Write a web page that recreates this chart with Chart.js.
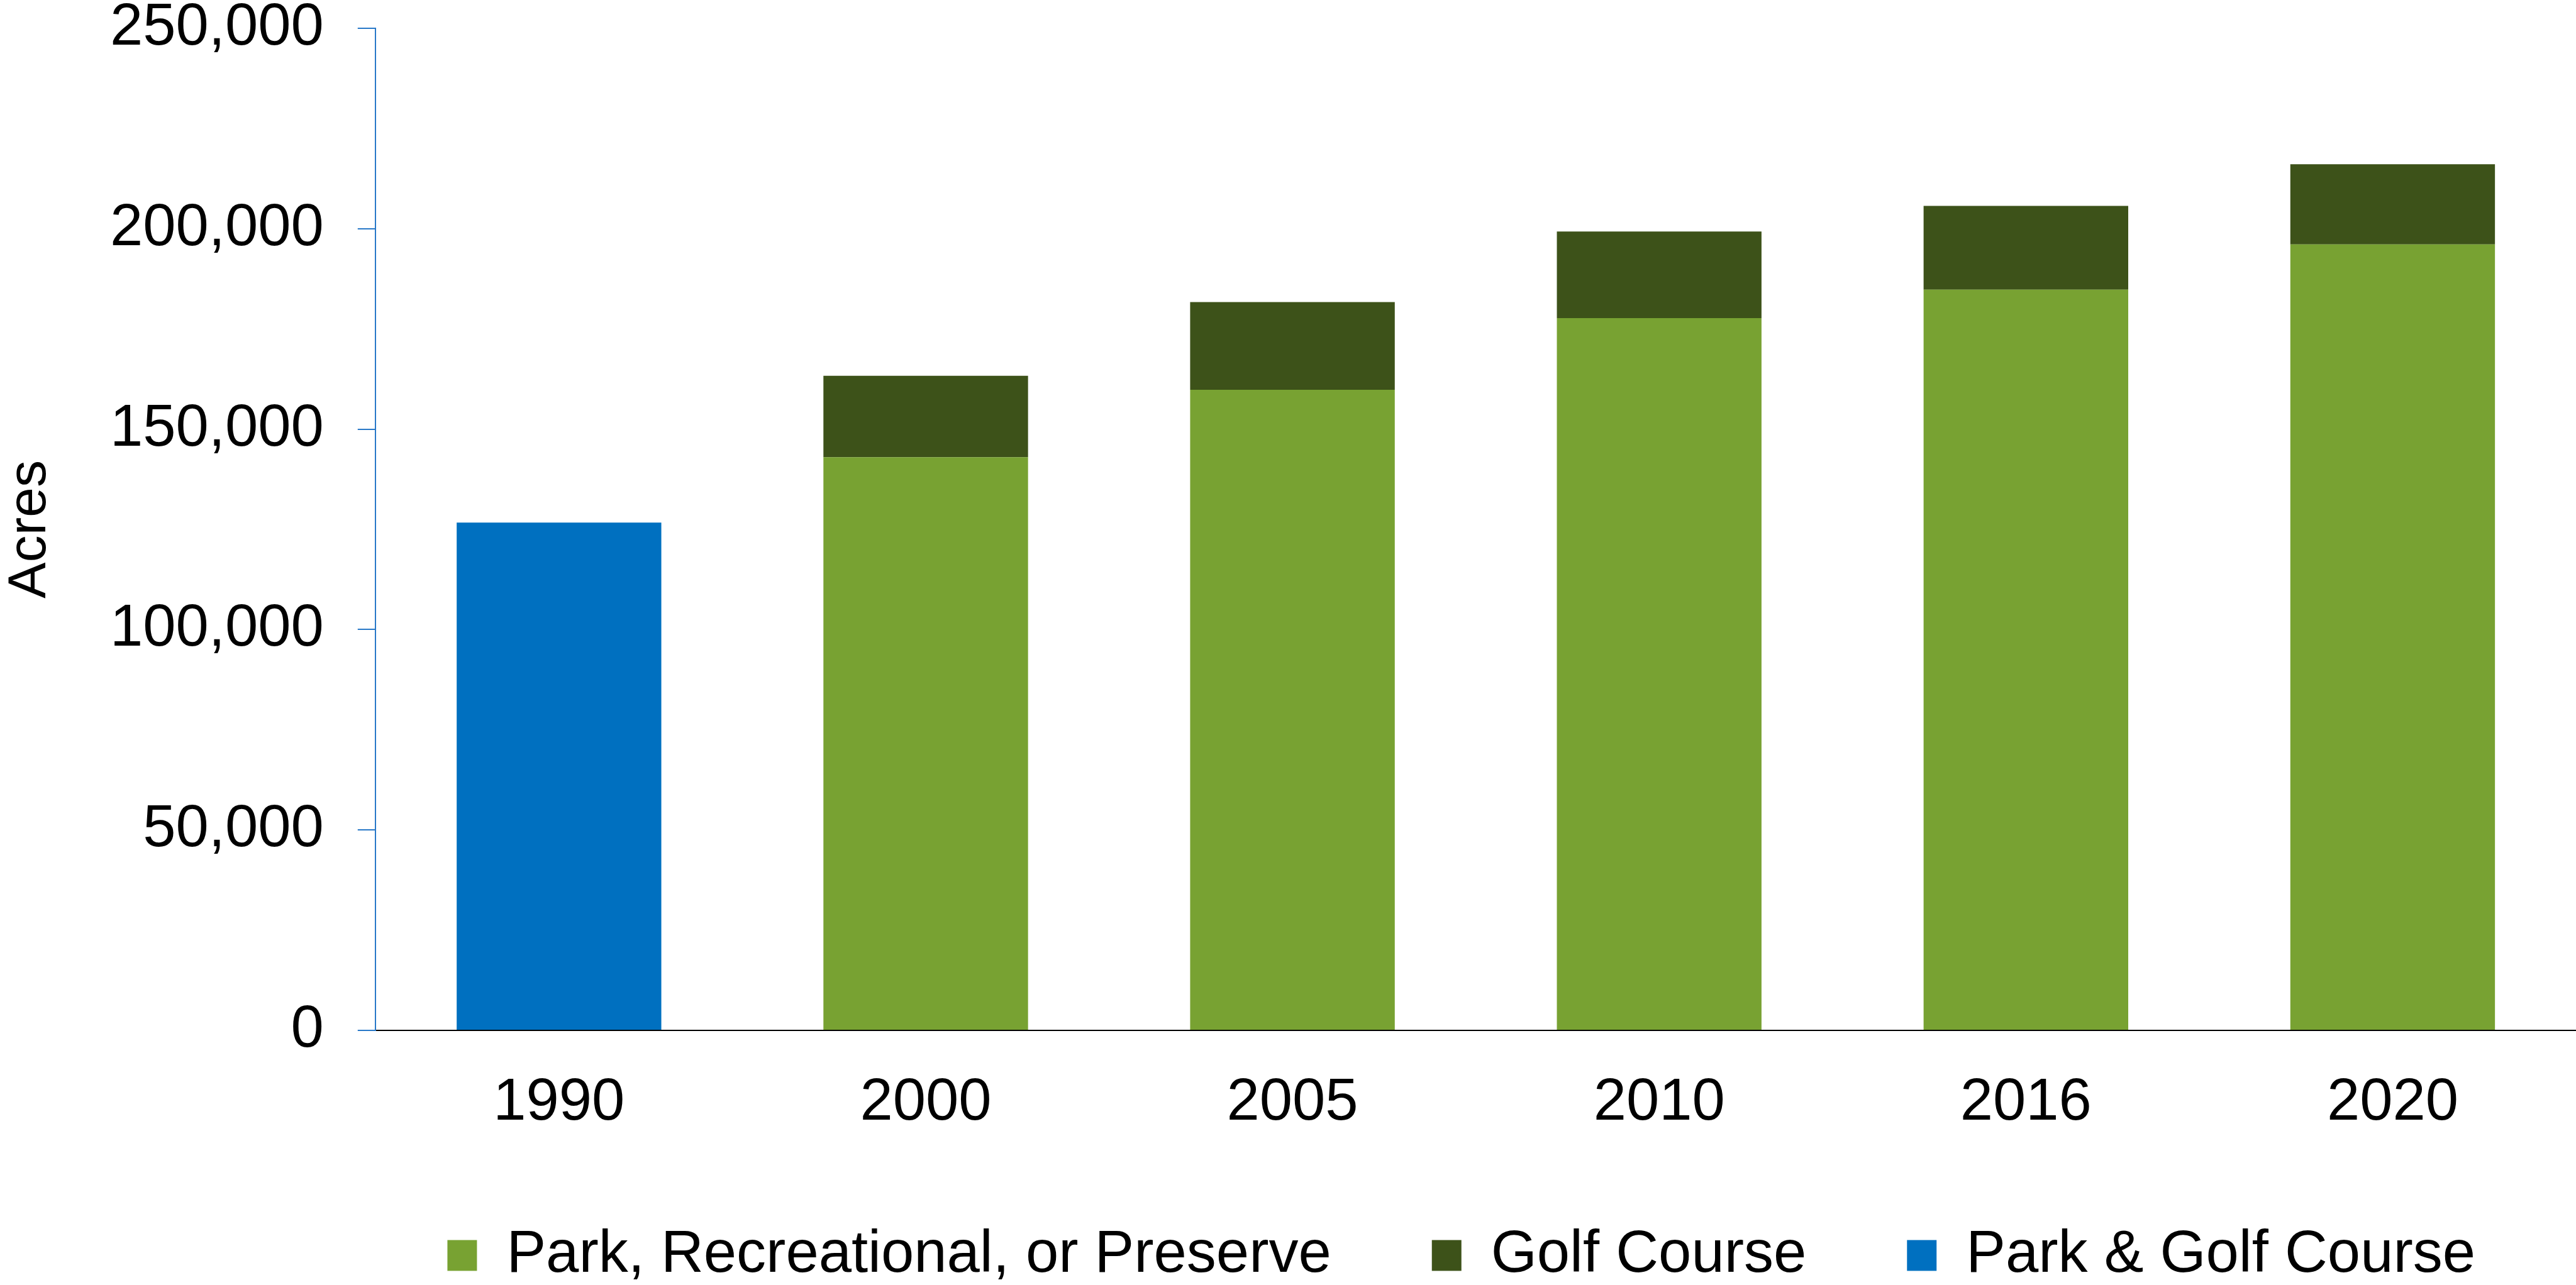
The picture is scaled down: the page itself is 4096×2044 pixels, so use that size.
<!DOCTYPE html>
<html>
<head>
<meta charset="utf-8">
<title>Acres</title>
<script src="https://cdn.jsdelivr.net/npm/chart.js@4/dist/chart.umd.min.js"></script>
<style>
  html, body { margin: 0; padding: 0; background: #fff; }
  #wrap { width: 4096px; height: 2044px; position: relative; }
</style>
</head>
<body>
<div id="wrap"><canvas id="acres"></canvas></div>
<script>
// Acreage by survey year
const years = ['1990', '2000', '2005', '2010', '2016', '2020']
const parkAcres = [null, 143000, 159800, 177700, 184800, 196100]
const golfAcres = [null, 20300, 21900, 21600, 20900, 20000]
const parkAndGolfAcres = [126700, null, null, null, null, null]

const yMax = 250000
const yStep = 50000

const FONT = '"Liberation Sans", Arial, sans-serif'
const AXIS_BLUE = '#2878C8'

Chart.defaults.font.family = FONT
Chart.defaults.color = '#000'

new Chart(document.getElementById('acres'), {
  type: 'bar',
  data: {
    labels: years,
    datasets: [{
      label: 'Park, Recreational, or Preserve',
      data: parkAcres,
      backgroundColor: '#78A232',
      borderWidth: 0
    }, {
      label: 'Golf Course',
      data: golfAcres,
      backgroundColor: '#3D5219',
      borderWidth: 0
    }, {
      label: 'Park & Golf Course',
      data: parkAndGolfAcres,
      backgroundColor: '#0070C0',
      borderWidth: 0
    }]
  },
  options: {
    responsive: true,
    maintainAspectRatio: false,
    animation: false,
    categoryPercentage: 1,
    barPercentage: 0.558,
    layout: {
      padding: {top: 45, right: 0, bottom: -10, left: 0}
    },
    plugins: {
      tooltip: {enabled: false},
      legend: {
        position: 'bottom',
        align: 'end',
        labels: {
          boxWidth: 47,
          boxHeight: 49,
          padding: 160,
          color: '#000',
          font: {size: 94}
        }
      }
    },
    scales: {
      x: {
        stacked: true,
        // invisible tick marks just push the year labels down
        grid: {
          drawOnChartArea: false,
          drawTicks: true,
          tickLength: 81,
          color: 'rgba(0,0,0,0)'
        },
        border: {color: '#000', width: 2},
        ticks: {
          padding: 0,
          font: {size: 94, lineHeight: 0.745}
        }
      },
      y: {
        stacked: true,
        min: 0,
        max: yMax,
        // let the top label overhang the plot instead of pushing it down
        afterFit: (scale) => {
          scale.paddingTop = 0
          scale.paddingBottom = 0
        },
        ticks: {
          stepSize: yStep,
          padding: 54,
          font: {size: 94}
        },
        grid: {
          drawOnChartArea: false,
          drawTicks: true,
          tickLength: 28.5,
          color: AXIS_BLUE,
          lineWidth: 2
        },
        border: {color: AXIS_BLUE, width: 2},
        title: {
          display: true,
          text: 'Acres',
          font: {size: 86, lineHeight: 1},
          padding: {top: 5, bottom: 30}
        }
      }
    }
  }
})
</script>
</body>
</html>
